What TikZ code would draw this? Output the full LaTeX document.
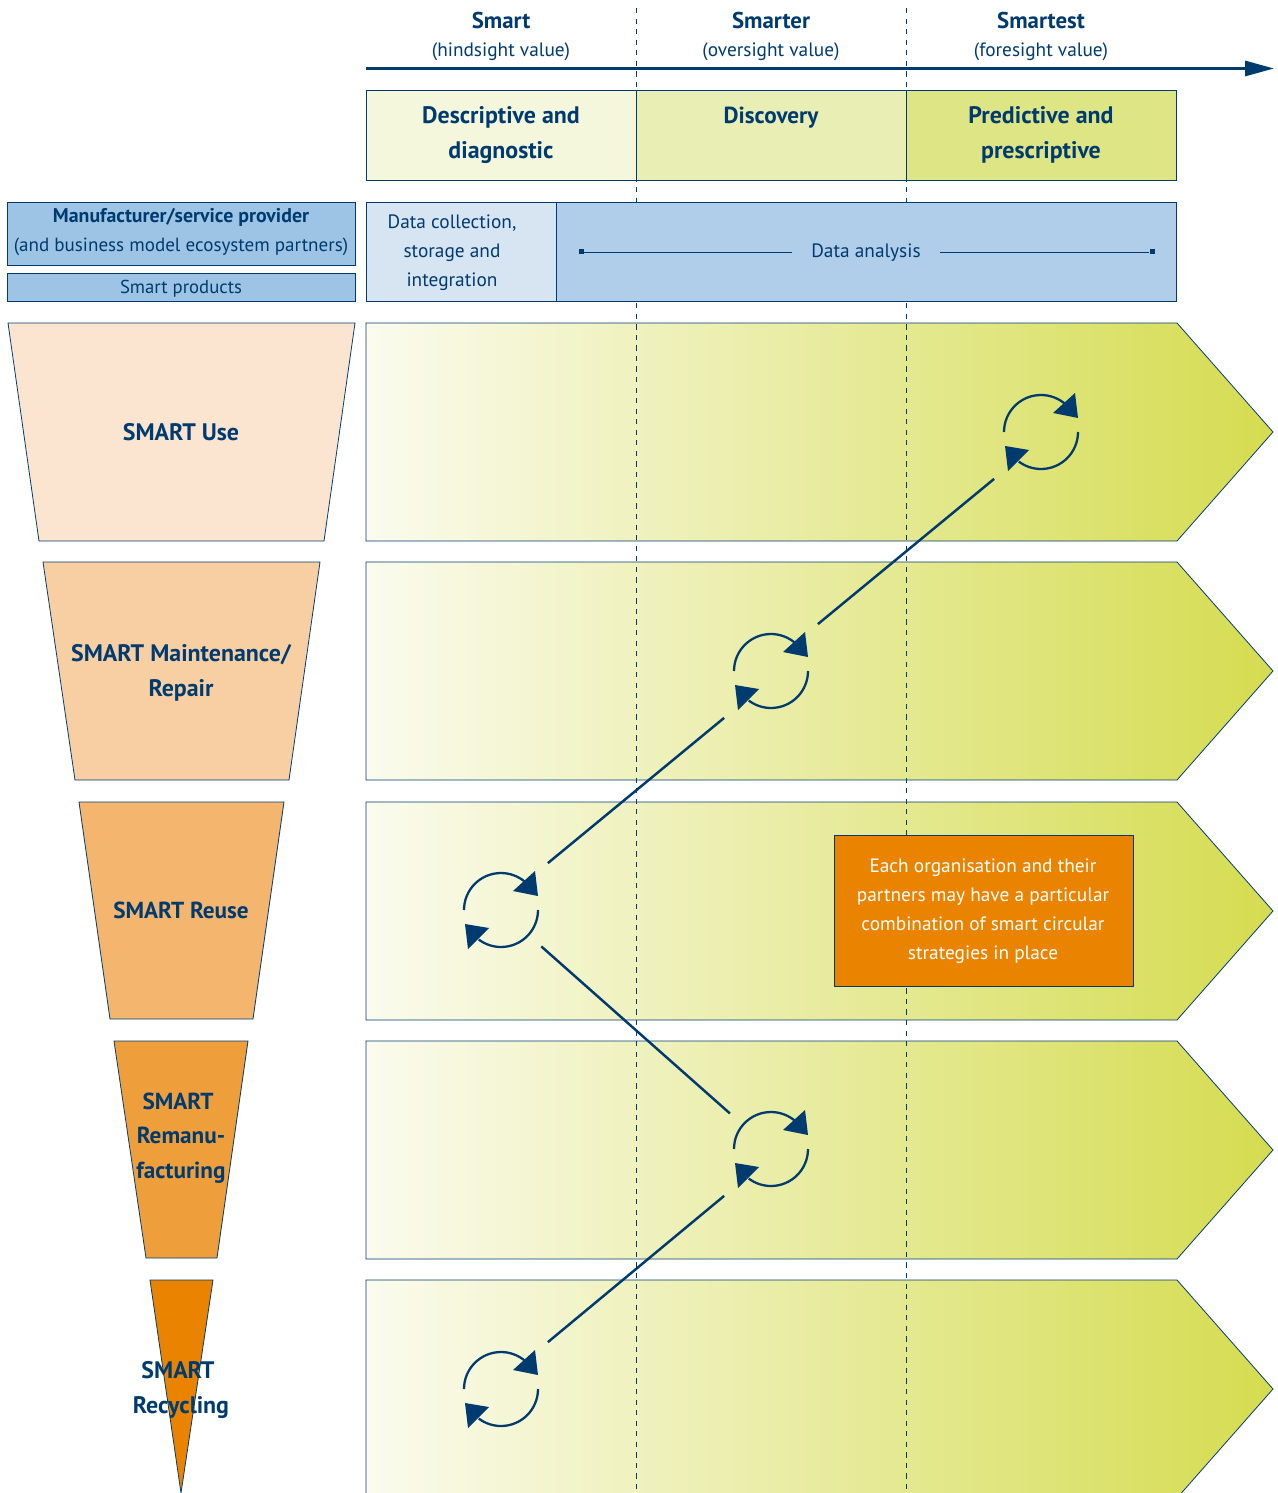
\documentclass[tikz,border=0pt]{standalone}
\usepackage{fontspec}
\usepackage{tikz}
\usetikzlibrary{arrows.meta}
\setmainfont{PT Sans}
\definecolor{mnavy}{rgb}{0.0, 0.23, 0.44}
\definecolor{mpale}{rgb}{0.984, 0.984, 0.933}
\definecolor{mlime}{rgb}{0.835, 0.863, 0.314}
\definecolor{hdone}{rgb}{0.961, 0.969, 0.863}
\definecolor{hdtwo}{rgb}{0.914, 0.933, 0.706}
\definecolor{hdthree}{rgb}{0.867, 0.898, 0.518}
\definecolor{mblue}{rgb}{0.616, 0.769, 0.894}
\definecolor{dblue}{rgb}{0.69, 0.804, 0.914}
\definecolor{lblue}{rgb}{0.843, 0.894, 0.949}
\definecolor{fone}{rgb}{0.988, 0.898, 0.816}
\definecolor{ftwo}{rgb}{0.973, 0.812, 0.635}
\definecolor{fthree}{rgb}{0.957, 0.71, 0.431}
\definecolor{ffour}{rgb}{0.937, 0.62, 0.235}
\definecolor{ffive}{rgb}{0.914, 0.514, 0.0}
\tikzset{panel/.style = {draw = mnavy, line width = 0.45pt}}
\tikzset{rowfill/.style = {panel, left color = mpale, right color = mlime}}
\tikzset{headtext/.style = {text = mnavy, align = center, font = \fontsize{13}{20}\selectfont\bfseries}}
\tikzset{bigtext/.style = {text = mnavy, align = center, font = \fontsize{13.6}{20}\selectfont\bfseries}}
\tikzset{midtext/.style = {text = mnavy, align = center, font = \fontsize{13.2}{19.7}\selectfont\bfseries}}
\tikzset{subtext/.style = {text = mnavy, align = center, font = \fontsize{11}{16.5}\selectfont}}
\tikzset{link/.style = {draw = mnavy, line width = 1.4pt}}
\tikzset{loopnode/.style = {circle, inner sep = 0, minimum size = 2.64cm}}
\tikzset{sqr/.style = {fill = mnavy, inner sep = 0, minimum size = 0.1cm}}
\tikzset{cyc/.pic = {
    \draw [mnavy, line width = 1.3pt] (-37, 0) arc [start angle = 180, end angle = 48, radius = 0.74cm];
    \draw [mnavy, line width = 1.3pt] (37, 0) arc [start angle = 0, end angle = -127, radius = 0.74cm];
    \fill [mnavy] (34, -39) -- (37, -14) -- (12, -19) -- cycle;
    \fill [mnavy] (-36, 14) -- (-12, 18) -- (-33, 39) -- cycle;
}}
\begin{document}
\begin{tikzpicture}[x = 0.02cm, y = -0.02cm]
    \useasboundingbox (0, 0) rectangle (1277, 1493);

    \foreach \t in {323, 562, 802, 1041, 1280}
      \shadedraw [rowfill] (366, \t) -- (1177, \t) -- (1273, {\t + 109}) -- (1177, {\t + 218}) -- (366, {\t + 218}) -- cycle;

    \foreach \t/\a/\b/\c/\d/\h/\f in {323/8/355/39/324/541/fone, 562/43/320/75/289/780/ftwo, 802/79/284/110/253/1019/fthree, 1041/114/248/146/217/1258/ffour, 1280/150/213/181/181/1493/ffive}
      \draw [panel, fill = \f] (\a, \t) -- (\b, \t) -- (\d, \h) -- (\c, \h) -- cycle;

    \coordinate (dashonetop) at (636, 8);
    \coordinate (dashonebot) at (636, 1493);
    \coordinate (dashtwotop) at (906, 8);
    \coordinate (dashtwobot) at (906, 1493);
    \draw [mnavy, dashed, line width = 0.45pt] (dashonetop) -- (dashonebot);
    \draw [mnavy, dashed, line width = 0.45pt] (dashtwotop) -- (dashtwobot);

    \coordinate (axisstart) at (366, 68.5);
    \coordinate (axisend) at (1274, 68.5);
    \draw [mnavy, line width = 1.7pt, -{Triangle[length = 0.58cm, width = 0.3cm]}] (axisstart) -- (axisend);

    \node [headtext] (smart) at (501, 21) {Smart};
    \node [subtext] (hindsight) at (501, 52) {(hindsight value)};
    \node [headtext] (smarter) at (771, 21) {Smarter};
    \node [subtext] (oversight) at (771, 52) {(oversight value)};
    \node [headtext] (smartest) at (1041, 21) {Smartest};
    \node [subtext] (foresight) at (1041, 52) {(foresight value)};

    \draw [panel, fill = hdone] (366, 90) rectangle (636, 180.5);
    \draw [panel, fill = hdtwo] (636, 90) rectangle (906, 180.5);
    \draw [panel, fill = hdthree] (906, 90) rectangle (1176.5, 180.5);
    \node [bigtext] (descriptive) at (501, 135) {Descriptive and\\diagnostic};
    \node [midtext] (discovery) at (771, 118) {Discovery};
    \node [bigtext] (predictive) at (1041, 135) {Predictive and\\prescriptive};

    \draw [panel, fill = mblue] (7, 202) rectangle (355, 265);
    \draw [panel, fill = mblue] (7, 273) rectangle (355, 301);
    \node [subtext, font = \fontsize{10.85}{16.5}\selectfont] (manufacturer) at (181, 232) {{\fontsize{11.3}{16.5}\selectfont\bfseries Manufacturer/service provider}\\(and business model ecosystem partners)};
    \node [subtext, font = \fontsize{10.65}{16.5}\selectfont] (products) at (181, 289) {Smart products};

    \draw [panel, fill = lblue] (366, 202) rectangle (556, 301.5);
    \draw [panel, fill = dblue] (556, 202) rectangle (1176.5, 301.5);
    \node [subtext] (datacollection) at (452, 253) {Data collection,\\storage and\\integration};
    \node [subtext, inner xsep = 0.38cm] (dataanalysis) at (866, 253) {Data analysis};
    \node [sqr] (analysisstart) at (581, 252) {};
    \node [sqr] (analysisend) at (1152, 252) {};
    \draw [mnavy, line width = 0.45pt] (analysisstart) -- (analysisstart -| dataanalysis.west);
    \draw [mnavy, line width = 0.45pt] (analysisend -| dataanalysis.east) -- (analysisend);

    \node [bigtext] (use) at (181, 432) {SMART Use};
    \node [bigtext] (maintenance) at (181, 673) {SMART Maintenance/\\Repair};
    \node [midtext] (reuse) at (181, 910) {SMART Reuse};
    \node [midtext] (remanufacturing) at (181, 1138) {SMART\kern 0.12cm\\Remanu-\\facturing};
    \node [bigtext] (recycling) at (181, 1390) {SMART\kern 0.12cm\\Recycling};

    \draw [panel, fill = ffive] (834, 835) rectangle (1133, 986);
    \node [subtext, text = white] (note) at (983, 911) {Each organisation and their\\partners may have a particular\\combination of smart circular\\strategies in place};

    \node [loopnode] (useloop) at (1041, 432) {};
    \node [loopnode] (maintloop) at (771, 671) {};
    \node [loopnode] (reuseloop) at (501, 910) {};
    \node [loopnode] (remanloop) at (771, 1149) {};
    \node [loopnode] (recycleloop) at (501, 1389) {};
    \foreach \n in {useloop, maintloop, reuseloop, remanloop, recycleloop}
      \pic at (\n) {cyc};

    \draw [link] (useloop.225) -- (maintloop.45);
    \draw [link] (maintloop.225) -- (reuseloop.45);
    \draw [link, shorten < = -0.24cm, shorten > = -0.24cm] (reuseloop.-42) -- (remanloop.139);
    \draw [link] (remanloop.225) -- (recycleloop.45);
  \end{tikzpicture}
\end{document}
